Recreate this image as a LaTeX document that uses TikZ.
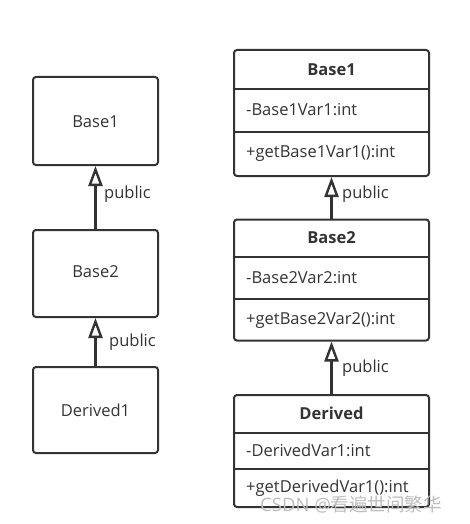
\documentclass[tikz,border=0pt]{standalone}
\usepackage{fontspec}
\setmainfont{Open Sans}
\newfontfamily\cjk{Noto Sans CJK SC}
\usetikzlibrary{arrows.meta}
\definecolor{ink}{HTML}{333333}
\definecolor{wmark}{HTML}{BDBDBD}
\begin{document}
\begin{tikzpicture}[x=1pt,y=-1pt,
  box/.style={draw=ink,line width=2pt,rounded corners=3pt,minimum width=125pt,inner sep=0pt},
  cls/.style={draw=ink,line width=2pt,rounded corners=3pt,minimum width=195pt,inner sep=0pt},
  sep/.style={draw=ink,line width=1.6pt},
  lbl/.style={text=ink,font=\fontsize{16.5}{19}\selectfont,inner sep=0pt},
  ttl/.style={text=ink,font=\fontsize{16.5}{19}\selectfont\bfseries,inner sep=0pt},
  mem/.style={text=ink,font=\fontsize{16.5}{19}\selectfont,inner sep=0pt,anchor=west},
  inh/.style={draw=ink,line width=2.8pt,-{Triangle[open,length=20pt,width=14pt,line width=2.4pt]}}
]
\useasboundingbox (0,0) rectangle (469,524);
% left column
\node[box,minimum height=88pt] (l1) at (95.5,121) {};
\node[box,minimum height=87pt] (l2) at (95.5,273.5) {};
\node[box,minimum height=86pt] (l3) at (95.5,410) {};
\node[lbl] (l1t) at (95.5,122) {Base1};
\node[lbl] (l2t) at (95.5,272) {Base2};
\node[lbl] (l3t) at (95.5,410) {Derived1};
\draw[inh] (l2.north) -- (l1.south);
\draw[inh] (l3.north) -- (l2.south);
\node[lbl,anchor=west] (p1) at (104,194) {public};
\node[lbl,anchor=west] (p2) at (109,342) {public};
% right column
\node[cls,minimum height=126pt] (r1) at (331.5,113) {};
\draw[sep] (234,89) -- (429,89);
\draw[sep] (234,132) -- (429,132);
\node[ttl] (r1t) at (331.5,70) {Base1};
\node[mem] (r1a) at (246,110) {-Base1Var1:int};
\node[mem] (r1m) at (246,153) {+getBase1Var1():int};
\node[cls,minimum height=121pt] (r2) at (331.5,280) {};
\draw[sep] (234,257) -- (429,257);
\draw[sep] (234,299) -- (429,299);
\node[ttl] (r2t) at (331.5,238) {Base2};
\node[mem] (r2a) at (246,278) {-Base2Var2:int};
\node[mem] (r2m) at (246,320) {+getBase2Var2():int};
\node[cls,minimum height=112pt] (r3) at (331.5,451) {};
\draw[sep] (234,433) -- (429,433);
\draw[sep] (234,469) -- (429,469);
\node[ttl] (r3t) at (331.5,413) {Derived};
\node[mem] (r3a) at (246,450) {-DerivedVar1:int};
\node[mem] (r3m) at (246,488) {+getDerivedVar1():int};
\draw[inh] (r2.north) -- (r1.south);
\draw[inh] (r3.north) -- (r2.south);
\node[lbl,anchor=west] (p3) at (342,194) {public};
\node[lbl,anchor=west] (p4) at (342,368) {public};
% watermark
\node[text=wmark,font=\fontsize{18.5}{22}\selectfont,inner sep=0pt,anchor=west] (wm) at (260,505) {CSDN @{\cjk 看遍世间繁华}};
\end{tikzpicture}
\end{document}
